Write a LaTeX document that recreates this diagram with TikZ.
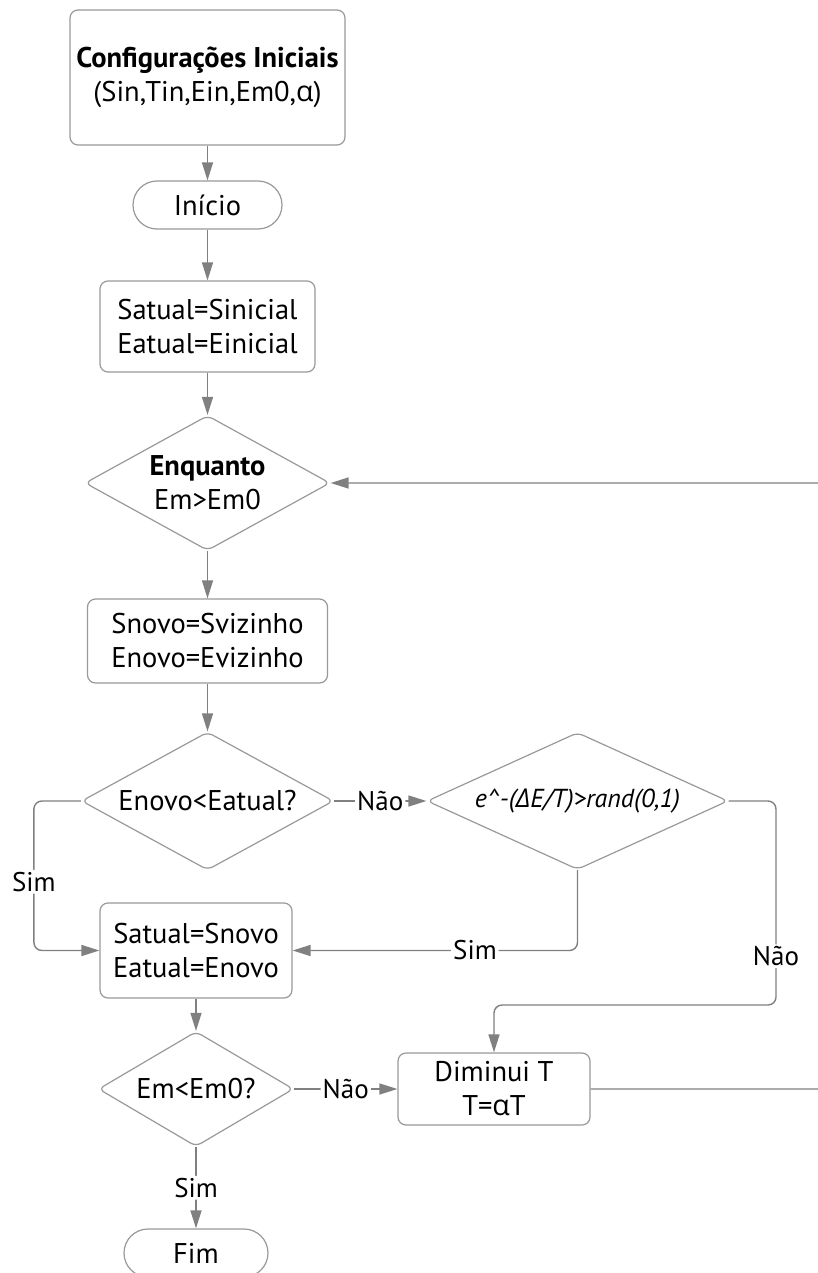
\documentclass[tikz,border=0pt]{standalone}
\usepackage{fontspec}
\setsansfont{PT Sans}
\newfontfamily\greekfont{Open Sans}
\usetikzlibrary{shapes.geometric,arrows.meta}

\begin{document}
\begin{tikzpicture}[x=1pt,y=-1pt,
    line/.style={draw=black!50,line width=1.4pt,rounded corners=8pt,
      -{Triangle[length=18pt,width=11pt]}},
    box/.style={draw=black!40,line width=1.2pt,rounded corners=8pt,fill=white,
      align=center,inner sep=0pt},
    terminal/.style={box,rounded corners=24pt},
    decision/.style={diamond,aspect=1.8,draw=black!40,line width=1.2pt,rounded corners=6pt,
      fill=white,align=center,inner sep=0pt},
    answer/.style={fill=white,inner sep=2pt,font=\fontsize{27}{30}\selectfont}]

  \sffamily
  \fontsize{28.5}{34}\selectfont
  \useasboundingbox (0,0) rectangle (817,1273);

  % the main column
  \node[box,minimum width=275pt,minimum height=135pt] (Configuracoes) at (207.5,77.5)
    {\bfseries Configurações Iniciais\\(Sin,Tin,Ein,Em0,{\greekfont α})};
  \node[terminal,minimum width=149pt,minimum height=48pt] (Inicio) at (207.5,205) {Início};
  \node[box,minimum width=215pt,minimum height=91pt] (Atual) at (207.5,326.5)
    {Satual=Sinicial\\Eatual=Einicial};
  \node[decision,minimum width=245pt,minimum height=135pt] (Enquanto) at (207.5,483)
    {\bfseries Enquanto\\Em>Em0};
  \node[box,minimum width=240pt,minimum height=84pt] (Vizinho) at (207.5,641)
    {Snovo=Svizinho\\Enovo=Evizinho};
  \node[decision,minimum width=252pt,minimum height=138pt] (Teste energia) at (207.5,801)
    {Enovo<Eatual?};
  \node[decision,aspect=2.2,minimum width=301pt,minimum height=137pt,
    font=\fontsize{26}{30}\selectfont]
    (Aceita) at (577.5,801) {\itshape e\textasciicircum-({\greekfont Δ}E/T)>rand(0,1)};
  \node[box,minimum width=192pt,minimum height=95pt] (Atualiza) at (196,950.5)
    {Satual=Snovo\\Eatual=Enovo};
  \node[decision,aspect=1.7,minimum width=195pt,minimum height=115pt] (Teste fim) at (196,1089)
    {Em<Em0?};
  \node[box,minimum width=192pt,minimum height=72pt] (Diminui) at (494,1089)
    {Diminui T\\T={\greekfont α}T};
  \node[terminal,minimum width=144pt,minimum height=48pt] (Fim) at (196,1253) {Fim};

  \coordinate (right lane)   at (776,1005);
  \coordinate (right border) at (830,1089);

  \draw[line] (Configuracoes) -- (Inicio);
  \draw[line] (Inicio) -- (Atual);
  \draw[line] (Atual) -- (Enquanto);
  \draw[line] (Enquanto) -- (Vizinho);
  \draw[line] (Vizinho) -- (Teste energia);

  \draw[line] (Teste energia.west) -- ++(-47,0) |- (Atualiza.west)
    node[answer,pos=0.27] {Sim};
  \draw[line] (Teste energia.east) -- (Aceita.west) node[answer,midway] {Não};
  \draw[line] (Aceita.south) |- (Atualiza.east) node[answer,pos=0.68] {Sim};
  \draw[line] (Aceita.east) -| (right lane) node[answer,pos=0.88] {Não}
    -| (Diminui.north);

  \draw[line] (Atualiza) -- (Teste fim);
  \draw[line] (Teste fim.east) -- (Diminui.west) node[answer,midway] {Não};
  \draw[line] (Teste fim) -- (Fim) node[answer,midway] {Sim};
  \draw[line] (Diminui.east) -- (right border) |- (Enquanto.east);
\end{tikzpicture}
\end{document}
